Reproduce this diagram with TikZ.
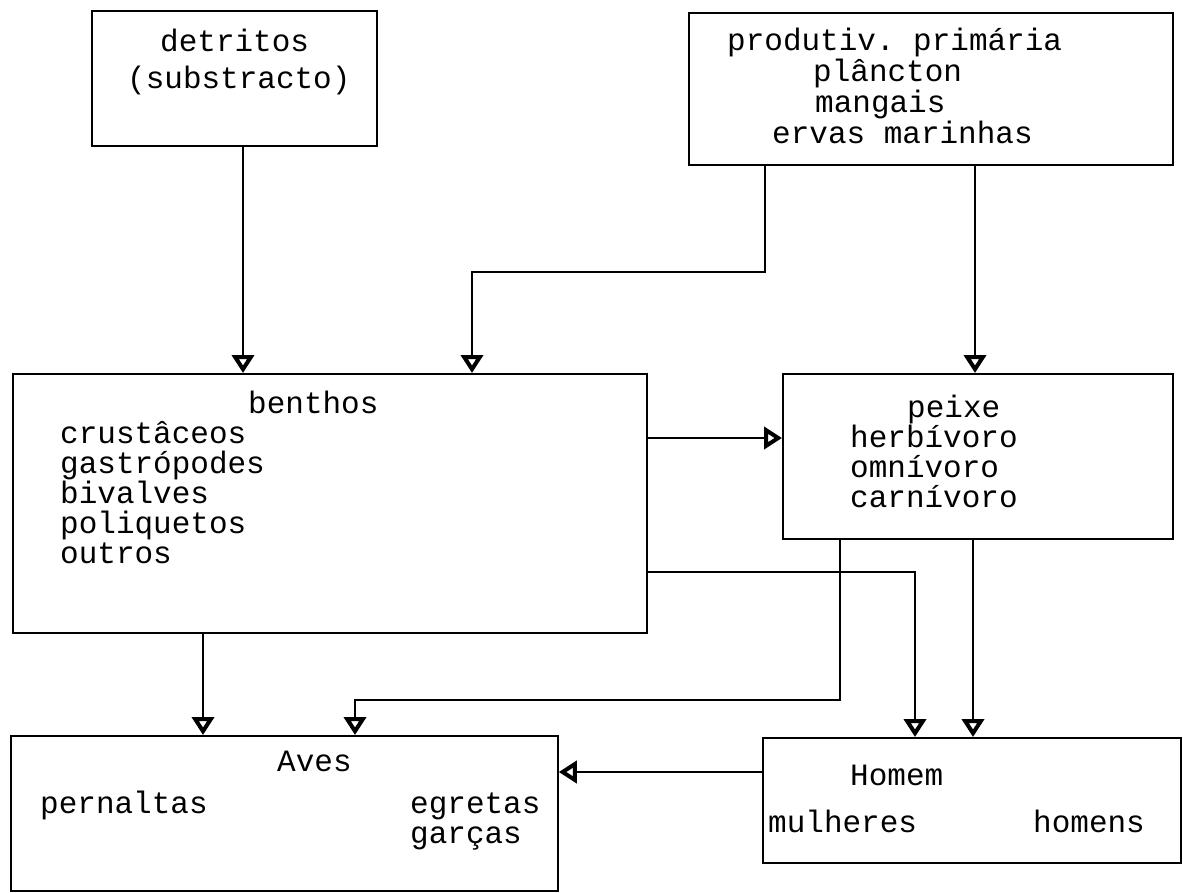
\documentclass[tikz,border=0pt]{standalone}
\usepackage{fontspec}
\setmonofont{Liberation Mono}
\usetikzlibrary{arrows.meta}
\begin{document}
\begin{tikzpicture}[x=1pt,y=-1pt,
  box/.style={draw, line width=1.8pt, inner sep=0pt, anchor=north west},
  lbl/.style={font=\ttfamily\fontsize{31}{34}\selectfont, inner sep=0pt, anchor=base west},
  conn/.style={line width=1.5pt, -{Triangle[open, width=22pt, length=18pt, line width=4pt]}}]
\useasboundingbox (0,0) rectangle (1183,893);
% boxes
\node[box, minimum width=285pt, minimum height=135pt] (det) at (91,10) {};
\node[box, minimum width=484pt, minimum height=152pt] (prod) at (688,12) {};
\node[box, minimum width=634pt, minimum height=259pt] (ben) at (12,373) {};
\node[box, minimum width=390pt, minimum height=165pt] (pei) at (782,373) {};
\node[box, minimum width=547pt, minimum height=155pt] (aves) at (10,735) {};
\node[box, minimum width=418pt, minimum height=125pt] (hom) at (762,737) {};
% texts
\node[lbl] (t1) at (160,52) {detritos};
\node[lbl] (t2) at (127,89) {(substracto)};
\node[lbl] (t3) at (727,51) {produtiv. primária};
\node[lbl] (t4) at (813,82) {plâncton};
\node[lbl] (t5) at (815,113) {mangais};
\node[lbl] (t6) at (772,144) {ervas marinhas};
\node[lbl] (t7) at (248,413) {benthos};
\node[lbl] (t8) at (60,443) {crustâceos};
\node[lbl] (t9) at (60,473) {gastrópodes};
\node[lbl] (t10) at (60,503) {bivalves};
\node[lbl] (t11) at (60,533) {poliquetos};
\node[lbl] (t12) at (60,563) {outros};
\node[lbl] (t13) at (907,417) {peixe};
\node[lbl] (t14) at (850,447) {herbívoro};
\node[lbl] (t15) at (850,477) {omnívoro};
\node[lbl] (t16) at (850,507) {carnívoro};
\node[lbl] (t17) at (277,771) {Aves};
\node[lbl] (t18) at (40,813) {pernaltas};
\node[lbl] (t19) at (410,813) {egretas};
\node[lbl] (t20) at (410,843) {garças};
\node[lbl] (t21) at (850,785) {Homem};
\node[lbl] (t22) at (768,832) {mulheres};
\node[lbl] (t23) at (1033,832) {homens};
% connectors
\coordinate (c1) at (765,272);
\coordinate (c2) at (472,272);
\coordinate (c3) at (915,572);
\coordinate (c4) at (840,700);
\coordinate (c5) at (355,700);
\draw[conn] (det.south -| 243,0) -- (ben.north -| 243,0);
\draw[conn] (prod.south -| c1) -- (c1) -- (c2) -- (ben.north -| c2);
\draw[conn] (prod.south -| 975,0) -- (pei.north -| 975,0);
\draw[conn] (ben.east |- 0,438) -- (pei.west |- 0,438);
\draw[conn] (ben.east |- c3) -- (c3) -- (hom.north -| c3);
\draw[conn] (pei.south -| c4) -- (c4) -- (c5) -- (aves.north -| c5);
\draw[conn] (pei.south -| 973,0) -- (hom.north -| 973,0);
\draw[conn] (ben.south -| 203,0) -- (aves.north -| 203,0);
\draw[conn] (hom.west |- 0,772) -- (aves.east |- 0,772);
\end{tikzpicture}
\end{document}
